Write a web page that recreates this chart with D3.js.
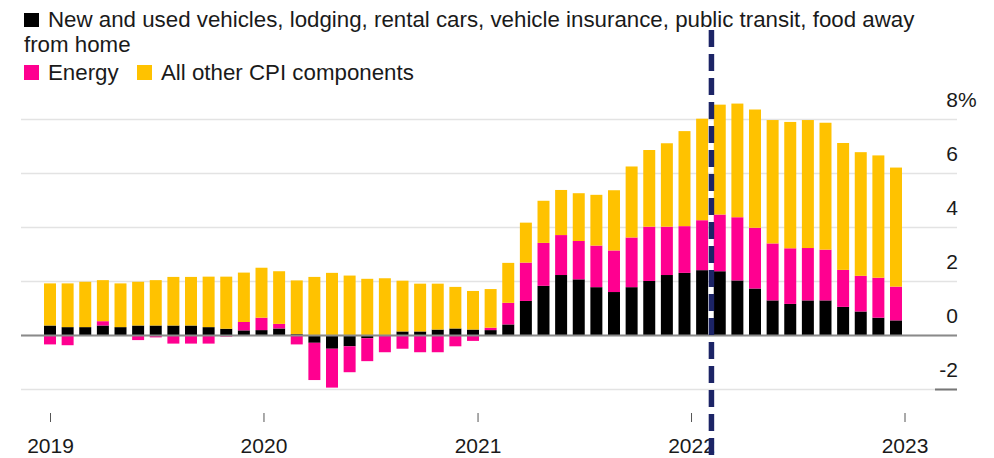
<!DOCTYPE html>
<html>

<head>
  <meta charset="utf-8" />
  <title>CPI contributions</title>
  <style>
    body {
      margin: 0;
      background: #fff;
    }

    svg text {
      font-family: "Liberation Sans", Arial, sans-serif;
      fill: #1a1a1a;
    }

    .grid line {
      stroke: #e3e3e3;
      stroke-width: 1.5px;
    }
  </style>
  <script src="https://cdnjs.cloudflare.com/ajax/libs/d3/7.8.5/d3.min.js"></script>
</head>

<body>
  <div id="chartArea"></div>
  <script>
    // monthly, Jan 2019 .. Jan 2023
    var months = ['2019-01', '2019-02', '2019-03', '2019-04', '2019-05', '2019-06', '2019-07', '2019-08', '2019-09', '2019-10', '2019-11', '2019-12',
      '2020-01', '2020-02', '2020-03', '2020-04', '2020-05', '2020-06', '2020-07', '2020-08', '2020-09', '2020-10', '2020-11', '2020-12',
      '2021-01', '2021-02', '2021-03', '2021-04', '2021-05', '2021-06', '2021-07', '2021-08', '2021-09', '2021-10', '2021-11', '2021-12',
      '2022-01', '2022-02', '2022-03', '2022-04', '2022-05', '2022-06', '2022-07', '2022-08', '2022-09', '2022-10', '2022-11', '2022-12',
      '2023-01'];

    var vehicles = [0.37, 0.31, 0.31, 0.37, 0.31, 0.37, 0.37, 0.37, 0.37, 0.31, 0.25, 0.19,
      0.2, 0.26, 0.05, -0.27, -0.49, -0.4, -0.1, 0.02, 0.15, 0.15, 0.22, 0.26,
      0.22, 0.2, 0.41, 1.28, 1.84, 2.24, 2.08, 1.79, 1.61, 1.79, 2.02, 2.24,
      2.32, 2.42, 2.38, 2.04, 1.74, 1.3, 1.17, 1.3, 1.3, 1.06, 0.89, 0.66,
      0.56];

    var energy = [-0.33, -0.36, 0, 0.16, 0, -0.17, -0.07, -0.3, -0.3, -0.3, -0.04, 0.31,
      0.46, 0.17, -0.33, -1.38, -1.44, -0.96, -0.85, -0.62, -0.49, -0.62, -0.62, -0.4,
      -0.2, 0.09, 0.8, 1.42, 1.59, 1.48, 1.42, 1.54, 1.54, 1.84, 2.01, 1.79,
      1.73, 1.85, 2.1, 2.34, 2.25, 2.11, 2.06, 1.94, 1.88, 1.37, 1.32, 1.48,
      1.25];

    var other = [1.56, 1.62, 1.68, 1.52, 1.62, 1.62, 1.68, 1.8, 1.8, 1.87, 1.93, 1.83,
      1.85, 1.95, 1.99, 2.17, 2.32, 2.22, 2.1, 2.1, 1.88, 1.77, 1.7, 1.54,
      1.43, 1.43, 1.48, 1.48, 1.56, 1.67, 1.77, 1.88, 2.23, 2.63, 2.84, 3.09,
      3.52, 3.76, 4.07, 4.21, 4.38, 4.57, 4.68, 4.74, 4.7, 4.7, 4.58, 4.53,
      4.41];

    var yTicks = [-2, 0, 2, 4, 6, 8];
    var marker = '2022-02';

    var keys = ['vehicles', 'energy', 'other'];
    var colors = { vehicles: '#000000', energy: '#ff0090', other: '#ffc200' };

    var rows = months.map(function (m, i) {
      return { month: m, vehicles: vehicles[i], energy: energy[i], other: other[i] };
    });

    var W = 994, H = 458;
    var svg = d3.select('#chartArea').append('svg')
      .attr('width', W)
      .attr('height', H);

    var xScale = d3.scaleBand()
      .domain(months)
      .range([41.19, 904.81])
      .paddingInner(0.32)
      .paddingOuter(0.16);

    // year ticks sit on their own time axis
    var parseY = d3.timeParse('%Y');
    var tScale = d3.scaleTime()
      .domain([parseY('2019'), parseY('2023')])
      .range([50, 904.5]);

    var yScale = d3.scaleLinear()
      .domain([-2, 8])
      .range([389.5, 119.5]);

    // gridlines
    var grid = svg.append('g').attr('class', 'grid');
    grid.selectAll('line')
      .data(yTicks)
      .enter()
      .append('line')
      .attr('x1', 21)
      .attr('x2', 957)
      .attr('y1', d => yScale(d))
      .attr('y2', d => yScale(d));

    svg.append('line')
      .attr('x1', 935).attr('x2', 957)
      .attr('y1', yScale(-2)).attr('y2', yScale(-2))
      .attr('stroke', '#777').attr('stroke-width', 2);

    // y labels, number right-aligned, % hanging past it
    var yLab = svg.append('g');
    yLab.selectAll('text')
      .data(yTicks)
      .enter()
      .append('text')
      .attr('x', 958)
      .attr('y', d => yScale(d) - 13)
      .attr('text-anchor', 'end')
      .style('font-size', '21px')
      .text(d => d);
    yLab.append('text')
      .attr('x', 958)
      .attr('y', yScale(8) - 13)
      .style('font-size', '21px')
      .text('%');

    // stacked bars
    var series = d3.stack()
      .keys(keys)
      .offset(d3.stackOffsetDiverging)(rows);

    svg.append('g').selectAll('g')
      .data(series)
      .enter()
      .append('g')
      .attr('fill', d => colors[d.key])
      .selectAll('rect')
      .data(d => d)
      .enter()
      .append('rect')
      .attr('x', d => xScale(d.data.month))
      .attr('width', xScale.bandwidth())
      .attr('y', d => yScale(Math.max(d[0], d[1])))
      .attr('height', d => Math.abs(yScale(d[0]) - yScale(d[1])));

    // zero line
    svg.append('line')
      .attr('x1', 21).attr('x2', 957)
      .attr('y1', yScale(0)).attr('y2', yScale(0))
      .attr('stroke', '#8a8a8a').attr('stroke-width', 2);

    // x axis
    var xAxis = d3.axisBottom(tScale)
      .ticks(d3.timeYear.every(1))
      .tickSize(9)
      .tickFormat(d3.timeFormat('%Y'));
    var gx = svg.append('g')
      .attr('transform', 'translate(0,413)')
      .call(xAxis);
    gx.select('.domain').remove();
    gx.selectAll('.tick line').attr('stroke', '#555');
    gx.selectAll('.tick text')
      .attr('y', 40)
      .attr('dy', 0)
      .style('font-size', '21px')
      .style('font-family', '"Liberation Sans", Arial, sans-serif')
      .attr('fill', '#1a1a1a');

    // dashed marker between Feb and Mar 2022
    var mx = xScale(marker) + xScale.step() * 0.5 + xScale.bandwidth() * 0.5 + 0.5;
    svg.append('line')
      .attr('x1', mx).attr('x2', mx)
      .attr('y1', 30).attr('y2', H)
      .attr('stroke', '#1c2466')
      .attr('stroke-width', 5.5)
      .attr('stroke-dasharray', '17 7');

    // legend
    var leg = svg.append('g').style('font-size', '22.3px');
    leg.append('rect').attr('x', 24).attr('y', 13).attr('width', 15).attr('height', 14).attr('fill', colors.vehicles);
    leg.append('text').attr('x', 48).attr('y', 27)
      .text('New and used vehicles, lodging, rental cars, vehicle insurance, public transit, food away');
    leg.append('text').attr('x', 24).attr('y', 51.5).text('from home');
    leg.append('rect').attr('x', 24).attr('y', 65).attr('width', 15).attr('height', 15).attr('fill', colors.energy);
    leg.append('text').attr('x', 48).attr('y', 80).text('Energy');
    leg.append('rect').attr('x', 137).attr('y', 65).attr('width', 15).attr('height', 15).attr('fill', colors.other);
    leg.append('text').attr('x', 161).attr('y', 80).text('All other CPI components');
  </script>
</body>

</html>
